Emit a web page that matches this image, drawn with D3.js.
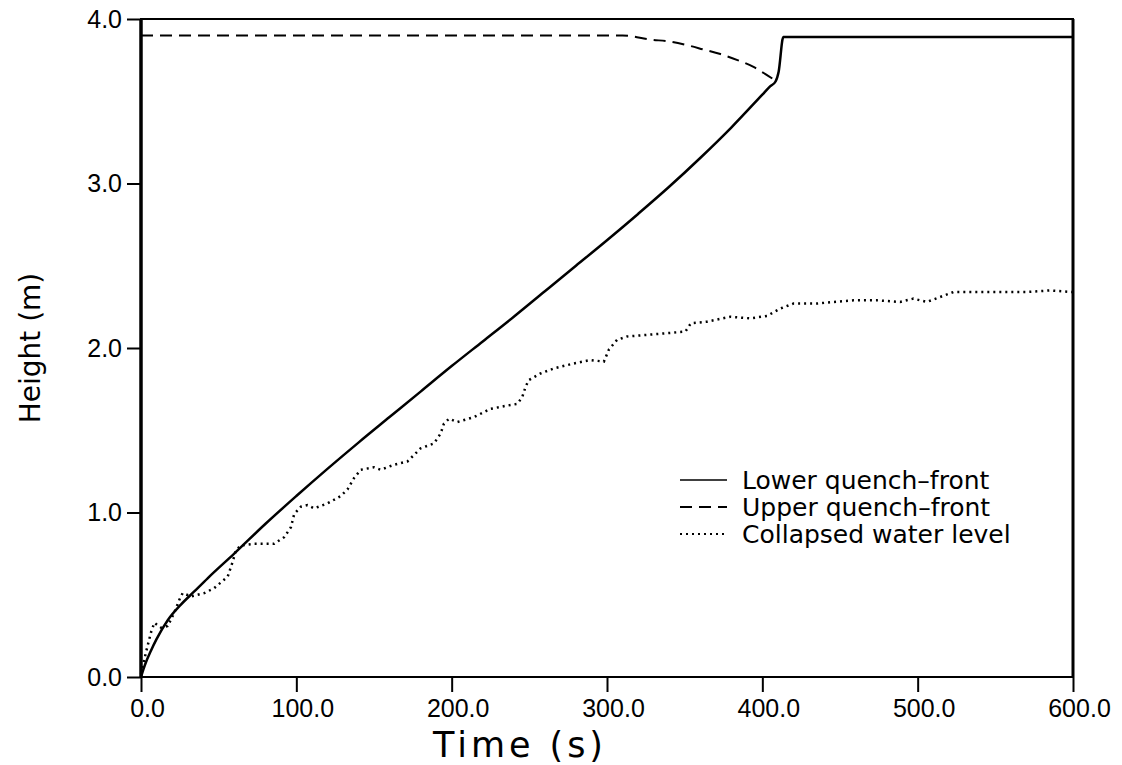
<!DOCTYPE html>
<html>
<head>
<meta charset="utf-8">
<script src="https://cdn.jsdelivr.net/npm/d3@7"></script>
<style>
  html, body { margin: 0; padding: 0; background: #fff; }
  svg { display: block; font-family: "DejaVu Sans", sans-serif; }
</style>
</head>
<body>
<svg id="chart" width="1122" height="765"></svg>
<script>
// time (s), height (m)
const lowerFront = [
  [0, 0], [1.5, 0.045], [3, 0.085], [6.4, 0.16], [10, 0.23], [17.2, 0.345], [25.7, 0.44],
  [34.3, 0.52], [42.9, 0.6], [60, 0.75], [80, 0.93], [100, 1.1], [120, 1.265],
  [140, 1.425], [160, 1.58], [180, 1.735], [200, 1.89], [220, 2.04], [240, 2.19],
  [260, 2.345], [280, 2.5], [300, 2.655], [320, 2.815], [340, 2.98], [360, 3.155],
  [380, 3.34], [400, 3.54], [405, 3.59], [408.5, 3.62], [410.5, 3.68], [413.5, 3.89], [600, 3.89]
];

const upperFront = [
  [0, 3.9], [310, 3.9], [328, 3.875], [341, 3.862], [352, 3.84], [362, 3.815],
  [373, 3.787], [384, 3.75], [394, 3.71], [402, 3.665], [408.5, 3.625]
];

const waterLevel = [
  [0, 0.02], [3.2, 0.15], [6.4, 0.27], [8.6, 0.33], [12.9, 0.3], [17.2, 0.31],
  [21.4, 0.39], [24.7, 0.47], [26.8, 0.51], [32.2, 0.49], [40.7, 0.51], [47.1, 0.54],
  [55.8, 0.61], [59, 0.7], [61.1, 0.77], [64.3, 0.8], [72.9, 0.81], [85.7, 0.81],
  [92.2, 0.85], [96.5, 0.91], [98.6, 0.99], [102.9, 1.035], [107.2, 1.045], [111.5, 1.025],
  [120, 1.055], [128.6, 1.1], [132.9, 1.14], [137.2, 1.21], [141.5, 1.26], [150, 1.275],
  [154.3, 1.26], [162.9, 1.29], [171.5, 1.31], [175.8, 1.35], [180, 1.39], [188.6, 1.42],
  [192.9, 1.48], [195, 1.54], [198.3, 1.57], [203.7, 1.55], [214.3, 1.58], [225, 1.63],
  [235.8, 1.65], [242.2, 1.66], [245.4, 1.7], [247.6, 1.765], [249.7, 1.805], [257.2, 1.845],
  [265.8, 1.876], [278.6, 1.906], [289.4, 1.927], [298, 1.917], [301.2, 1.99], [306.5, 2.05],
  [312.9, 2.07], [325.8, 2.08], [338.7, 2.09], [350.5, 2.1], [354, 2.15], [364.4, 2.16],
  [379.4, 2.19], [392.3, 2.18], [403, 2.195], [411.6, 2.24], [420, 2.27], [435, 2.27],
  [446, 2.28], [458.7, 2.29], [473.7, 2.29], [488.7, 2.28], [497.3, 2.3], [505.9, 2.28],
  [514.5, 2.31], [523, 2.34], [536, 2.34], [553, 2.34], [570, 2.34], [585, 2.35], [600, 2.34]
];

const xTicks = [0, 100, 200, 300, 400, 500, 600];
const yTicks = [0, 1, 2, 3, 4];
const legendLabels = ['Lower quench\u2013front', 'Upper quench\u2013front', 'Collapsed water level'];

const svg = d3.select('#chart');

const x = d3.scaleLinear().domain([0, 600]).range([141, 1073]);
const y = d3.scaleLinear().domain([0, 4]).range([677, 19]);

// Axes
const xAxis = svg.append('g')
    .attr('transform', `translate(0,${y(0)})`)
    .call(d3.axisBottom(x).tickValues(xTicks).tickSize(15).tickPadding(7)
        .tickFormat(d3.format('.1f')));
xAxis.select('.domain').remove();
xAxis.selectAll('line').attr('stroke', '#000').attr('stroke-width', 2);
xAxis.selectAll('text')
    .attr('fill', '#000')
    .attr('font-size', '25px')
    .attr('dx', 6);

const yAxis = svg.append('g')
    .attr('transform', `translate(${x(0)},0)`)
    .call(d3.axisLeft(y).tickValues(yTicks).tickSize(14).tickPadding(5)
        .tickFormat(d3.format('.1f')));
yAxis.select('.domain').remove();
yAxis.selectAll('line').attr('stroke', '#000').attr('stroke-width', 2);
yAxis.selectAll('text')
    .attr('fill', '#000')
    .attr('font-size', '25px');

// Frame
svg.append('rect')
    .attr('x', x(0)).attr('y', y(4))
    .attr('width', x(600) - x(0)).attr('height', y(0) - y(4))
    .attr('fill', 'none').attr('stroke', '#000').attr('stroke-width', 2);
svg.append('line')
    .attr('x1', x(0)).attr('x2', x(0)).attr('y1', y(4)).attr('y2', y(0))
    .attr('stroke', '#000').attr('stroke-width', 3.5);
svg.append('line')
    .attr('x1', x(600)).attr('x2', x(600)).attr('y1', y(4)).attr('y2', y(0))
    .attr('stroke', '#000').attr('stroke-width', 3);

// Lines
const line = d3.line().x(d => x(d[0])).y(d => y(d[1]));

svg.append('path')
    .datum(upperFront)
    .attr('fill', 'none').attr('stroke', '#000').attr('stroke-width', 2)
    .attr('stroke-dasharray', '12,7')
    .attr('d', line.curve(d3.curveMonotoneX));

svg.append('path')
    .datum(lowerFront)
    .attr('fill', 'none').attr('stroke', '#000').attr('stroke-width', 2.5)
    .attr('d', line.curve(d3.curveMonotoneX));

svg.append('path')
    .datum(waterLevel)
    .attr('fill', 'none').attr('stroke', '#000').attr('stroke-width', 2.5)
    .attr('stroke-dasharray', '2,4')
    .attr('d', line.curve(d3.curveLinear));

// Legend
const dashes = [null, '12,7', '2,4'];
const legend = svg.append('g').attr('transform', 'translate(680,480)');
legendLabels.forEach((label, i) => {
    legend.append('line')
        .attr('x1', 0).attr('x2', 47)
        .attr('y1', i * 27).attr('y2', i * 27)
        .attr('stroke', '#000').attr('stroke-width', i === 0 ? 1.5 : 2)
        .attr('stroke-dasharray', dashes[i]);
    legend.append('text')
        .attr('x', 62).attr('y', i * 27)
        .attr('dy', '0.35em')
        .attr('font-size', '25px')
        .text(label);
});

// Axis titles
svg.append('text')
    .attr('x', 518).attr('y', 757)
    .attr('text-anchor', 'middle')
    .attr('font-size', '35px')
    .attr('textLength', 170)
    .attr('lengthAdjust', 'spacing')
    .text('Time (s)');

svg.append('text')
    .attr('transform', `translate(40,${(y(0) + y(4)) / 2}) rotate(-90)`)
    .attr('text-anchor', 'middle')
    .attr('font-size', '28px')
    .text('Height (m)');
</script>
</body>
</html>
